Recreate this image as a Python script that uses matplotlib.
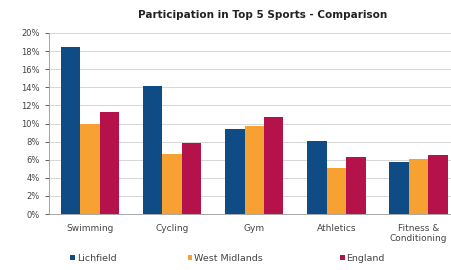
import numpy as np
import matplotlib.pyplot as plt
from matplotlib.ticker import PercentFormatter

sports = ['Swimming', 'Cycling', 'Gym', 'Athletics', 'Fitness &\nConditioning']
lichfield = [18.5, 14.1, 9.4, 8.1, 5.7]
west_midlands = [10.0, 6.6, 9.7, 5.1, 6.1]
england = [11.3, 7.9, 10.7, 6.3, 6.5]

series = [('Lichfield', lichfield, '#0f4c85'),
          ('West Midlands', west_midlands, '#f7a133'),
          ('England', england, '#b5114a')]

fig = plt.figure(figsize=(4.52, 2.7), dpi=100)
ax = fig.add_axes([0.108, 0.207, 0.909, 0.671])

x = np.arange(len(sports))
w = 0.237
bars = []
for i, (name, vals, col) in enumerate(series):
    bars.append(ax.bar(x + (i - 1) * w, vals, w, color=col, label=name, zorder=3))

ax.set_xlim(-0.5, len(sports) - 0.5)
ax.set_ylim(0, 20)
ax.set_yticks(np.arange(0, 21, 2))
ax.yaxis.set_major_formatter(PercentFormatter(decimals=0))
ax.set_xticks(x)
ax.set_xticklabels(sports, fontsize=6.5, color='#444444', linespacing=1.1)
ax.tick_params(axis='y', labelsize=6, colors='#444444', length=3, width=0.6)
ax.tick_params(axis='x', length=0, pad=7)
ax.grid(axis='y', color='#d0d0d0', linewidth=0.6, zorder=0)
for s in ['top', 'right']:
    ax.spines[s].set_visible(False)
ax.spines['left'].set_color('#999999')
ax.spines['left'].set_linewidth(0.6)
ax.spines['bottom'].set_color('#999999')
ax.spines['bottom'].set_linewidth(0.6)

fig.text(0.58, 0.945, 'Participation in Top 5 Sports - Comparison',
         ha='center', va='center', fontsize=7.5, fontweight='bold', color='#222222')

# legend entries sit unevenly along the bottom, so place each one separately
legend_x = [0.155, 0.415, 0.752]
for (name, vals, col), b, lx in zip(series, bars, legend_x):
    leg = fig.legend([b], [name], loc='center left', bbox_to_anchor=(lx, 0.044),
                     frameon=False, fontsize=6.8, handlelength=0.5, handleheight=0.5,
                     handletextpad=0.2, labelcolor='#444444', borderpad=0, borderaxespad=0)

fig.savefig('out.png', dpi=100)
